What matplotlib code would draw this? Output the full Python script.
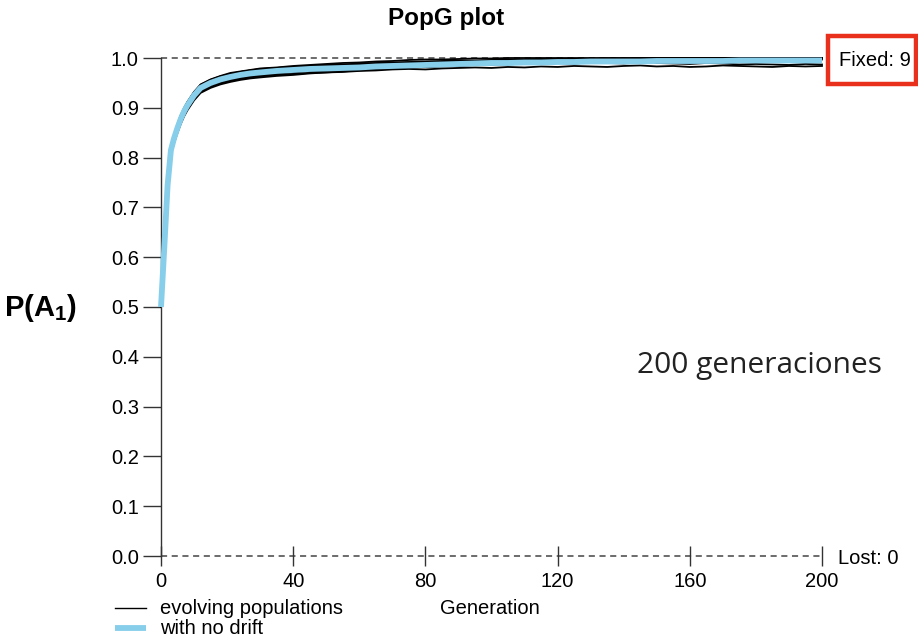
import matplotlib
matplotlib.use("Agg")
import matplotlib.pyplot as plt
from matplotlib.patches import Rectangle
from matplotlib.lines import Line2D

plt.rcParams['font.family'] = ['Liberation Sans', 'DejaVu Sans']
plt.rcParams['mathtext.fontset'] = 'custom'
plt.rcParams['mathtext.rm'] = 'Liberation Sans'
plt.rcParams['mathtext.bf'] = 'Liberation Sans:bold'

title = "PopG plot"
xlabel = "Generation"
ylabel = r"$\mathbf{P(A_1)}$"
annotation = "200 generaciones"
fixed_label = "Fixed: 9"
lost_label = "Lost: 0"
legend_labels = ["evolving populations", "with no drift"]
xticks = [0, 40, 80, 120, 160, 200]
yticks = [0.0, 0.1, 0.2, 0.3, 0.4, 0.5, 0.6, 0.7, 0.8, 0.9, 1.0]

gens = [0, 1, 2, 3, 4, 5, 6, 7, 8, 10,
        12, 15, 18, 21, 24, 27, 30, 35, 40, 45,
        50, 55, 60, 65, 70, 75, 80, 85, 90, 95,
        100, 105, 110, 115, 120, 125, 130, 135, 140, 145,
        150, 155, 160, 165, 170, 175, 180, 185, 190, 195,
        200]

no_drift = [0.50, 0.62, 0.745, 0.815, 0.840, 0.860, 0.878, 0.893, 0.905, 0.925,
            0.940, 0.950, 0.957, 0.962, 0.966, 0.969, 0.971, 0.974, 0.976, 0.978,
            0.979, 0.980, 0.981, 0.983, 0.984, 0.985, 0.986, 0.987, 0.988, 0.989,
            0.990, 0.990, 0.991, 0.991, 0.992, 0.992, 0.993, 0.993, 0.993, 0.993,
            0.994, 0.994, 0.994, 0.994, 0.994, 0.995, 0.995, 0.995, 0.995, 0.995,
            0.995]

pop1 = [0.50, 0.63, 0.75, 0.82, 0.846, 0.866, 0.885, 0.900, 0.912, 0.932,
        0.947, 0.957, 0.964, 0.970, 0.973, 0.976, 0.979, 0.981, 0.984, 0.986,
        0.988, 0.990, 0.991, 0.993, 0.994, 0.996, 0.997, 0.997, 0.998, 0.999,
        0.999, 1.0, 1.0, 1.0, 1.0, 1.0, 1.0, 1.0, 1.0, 1.0,
        1.0, 1.0, 1.0, 1.0, 1.0, 1.0, 1.0, 1.0, 1.0, 1.0,
        1.0]
pop2 = [0.50, 0.612, 0.738, 0.808, 0.832, 0.852, 0.870, 0.885, 0.897, 0.917,
        0.932, 0.942, 0.949, 0.954, 0.958, 0.961, 0.963, 0.966, 0.968, 0.970,
        0.971, 0.972, 0.974, 0.975, 0.977, 0.978, 0.977, 0.979, 0.980, 0.981,
        0.980, 0.982, 0.981, 0.983, 0.982, 0.984, 0.983, 0.982, 0.984, 0.985,
        0.983, 0.984, 0.982, 0.983, 0.985, 0.984, 0.983, 0.982, 0.984, 0.983,
        0.984]
pop3 = [0.50, 0.625, 0.748, 0.818, 0.845, 0.864, 0.882, 0.898, 0.910, 0.930,
        0.946, 0.956, 0.963, 0.968, 0.972, 0.975, 0.977, 0.980, 0.982, 0.983,
        0.985, 0.986, 0.987, 0.989, 0.990, 0.991, 0.992, 0.992, 0.993, 0.994,
        0.995, 0.995, 0.996, 0.997, 0.997, 0.998, 0.998, 0.999, 0.999, 1.0,
        1.0, 1.0, 1.0, 1.0, 1.0, 1.0, 1.0, 1.0, 1.0, 1.0,
        1.0]
pop4 = [0.50, 0.615, 0.74, 0.81, 0.834, 0.854, 0.872, 0.887, 0.899, 0.919,
        0.934, 0.945, 0.951, 0.956, 0.960, 0.963, 0.965, 0.968, 0.971, 0.973,
        0.974, 0.975, 0.976, 0.978, 0.979, 0.981, 0.982, 0.984, 0.985, 0.986,
        0.987, 0.988, 0.989, 0.988, 0.990, 0.989, 0.991, 0.990, 0.989, 0.991,
        0.990, 0.989, 0.988, 0.990, 0.989, 0.987, 0.988, 0.987, 0.986, 0.988,
        0.987]
pop5 = [0.50, 0.628, 0.752, 0.822, 0.848, 0.868, 0.886, 0.899, 0.911, 0.931,
        0.946, 0.956, 0.963, 0.968, 0.972, 0.975, 0.978, 0.980, 0.982, 0.984,
        0.986, 0.987, 0.989, 0.990, 0.991, 0.992, 0.993, 0.994, 0.995, 0.995,
        0.996, 0.997, 0.997, 0.998, 0.998, 0.997, 0.998, 0.999, 0.999, 0.999,
        0.999, 0.999, 0.999, 0.999, 1.0, 1.0, 1.0, 1.0, 1.0, 1.0,
        1.0]
pop6 = [0.50, 0.62, 0.742, 0.812, 0.838, 0.857, 0.874, 0.889, 0.901, 0.921,
        0.936, 0.947, 0.953, 0.959, 0.963, 0.966, 0.968, 0.971, 0.973, 0.975,
        0.977, 0.978, 0.980, 0.981, 0.982, 0.983, 0.984, 0.985, 0.987, 0.986,
        0.988, 0.987, 0.989, 0.988, 0.990, 0.989, 0.991, 0.990, 0.992, 0.991,
        0.993, 0.992, 0.993, 0.994, 0.993, 0.995, 0.994, 0.996, 0.995, 0.996,
        0.997]
pop7 = [0.50, 0.612, 0.735, 0.805, 0.830, 0.850, 0.868, 0.883, 0.895, 0.915,
        0.930, 0.940, 0.947, 0.952, 0.956, 0.959, 0.961, 0.964, 0.966, 0.969,
        0.971, 0.973, 0.975, 0.977, 0.979, 0.981, 0.982, 0.983, 0.984, 0.986,
        0.987, 0.988, 0.990, 0.991, 0.992, 0.993, 0.994, 0.995, 0.996, 0.996,
        0.997, 0.998, 0.998, 0.999, 0.999, 1.0, 1.0, 1.0, 1.0, 1.0,
        1.0]
populations = [pop1, pop2, pop3, pop4, pop5, pop6, pop7]

W, H = 918, 640
fig = plt.figure(figsize=(W / 100, H / 100), dpi=100)
ax = fig.add_axes([161 / W, (H - 556) / H, (822 - 161) / W, (556 - 58) / H])

ax.set_xlim(0, 200)
ax.set_ylim(0, 1)

dash = (0, (4, 3))
ax.axhline(1.0, color='#444444', lw=1.1, ls=dash, zorder=1, clip_on=False)
ax.axhline(0.0, color='#444444', lw=1.1, ls=dash, zorder=1, clip_on=False)

for p in populations:
    ax.plot(gens, p, color='black', lw=1.3, zorder=2, clip_on=False)
ax.plot(gens, no_drift, color='#87CEEB', lw=4.2, zorder=3, clip_on=False,
        solid_capstyle='butt')

for s in ['top', 'right', 'bottom']:
    ax.spines[s].set_visible(False)
ax.spines['left'].set_color('#333333')
ax.spines['left'].set_linewidth(1)

ax.set_xticks(xticks)
ax.set_xticklabels([str(t) for t in xticks])
ax.set_yticks(yticks)
ax.set_yticklabels([f"{t:.1f}" for t in yticks])
ax.tick_params(axis='y', direction='out', length=13, width=1, color='#333333',
               labelsize=14.5, pad=3)
ax.tick_params(axis='x', direction='inout', length=15, width=1, color='#333333',
               labelsize=14.5, pad=4)

fig.text(446 / W, 1 - 18 / H, title, ha='center', va='center', fontsize=17.5,
         fontweight='bold')
fig.text(4 / W, 1 - 308 / H, ylabel, ha='left', va='center', fontsize=21)
fig.text(490 / W, 1 - 609 / H, xlabel, ha='center', va='center', fontsize=14.5)
fig.text(637 / W, 1 - 366 / H, annotation, ha='left', va='center', fontsize=21.5,
         family=['Open Sans', 'DejaVu Sans'], color='#222222')

fig.text(838 / W, 1 - 558 / H, lost_label, ha='left', va='center', fontsize=14.5)
fig.text(875 / W, 1 - 60 / H, fixed_label, ha='center', va='center', fontsize=14.5)
fig.patches.append(Rectangle((828 / W, 1 - 84 / H), 88 / W, 48 / H,
                             transform=fig.transFigure, fill=False,
                             edgecolor='#E8301C', lw=3.2))

# legend
fig.add_artist(Line2D([115 / W, 146 / W], [1 - 608 / H, 1 - 608 / H],
                      transform=fig.transFigure, color='black', lw=1))
fig.add_artist(Line2D([115 / W, 146 / W], [1 - 628 / H, 1 - 628 / H],
                      transform=fig.transFigure, color='#87CEEB', lw=4.2,
                      solid_capstyle='butt'))
fig.text(160 / W, 1 - 609 / H, legend_labels[0], ha='left', va='center', fontsize=14.5)
fig.text(160 / W, 1 - 628 / H, legend_labels[1], ha='left', va='center', fontsize=14.5)

fig.savefig("out.png", dpi=100)
